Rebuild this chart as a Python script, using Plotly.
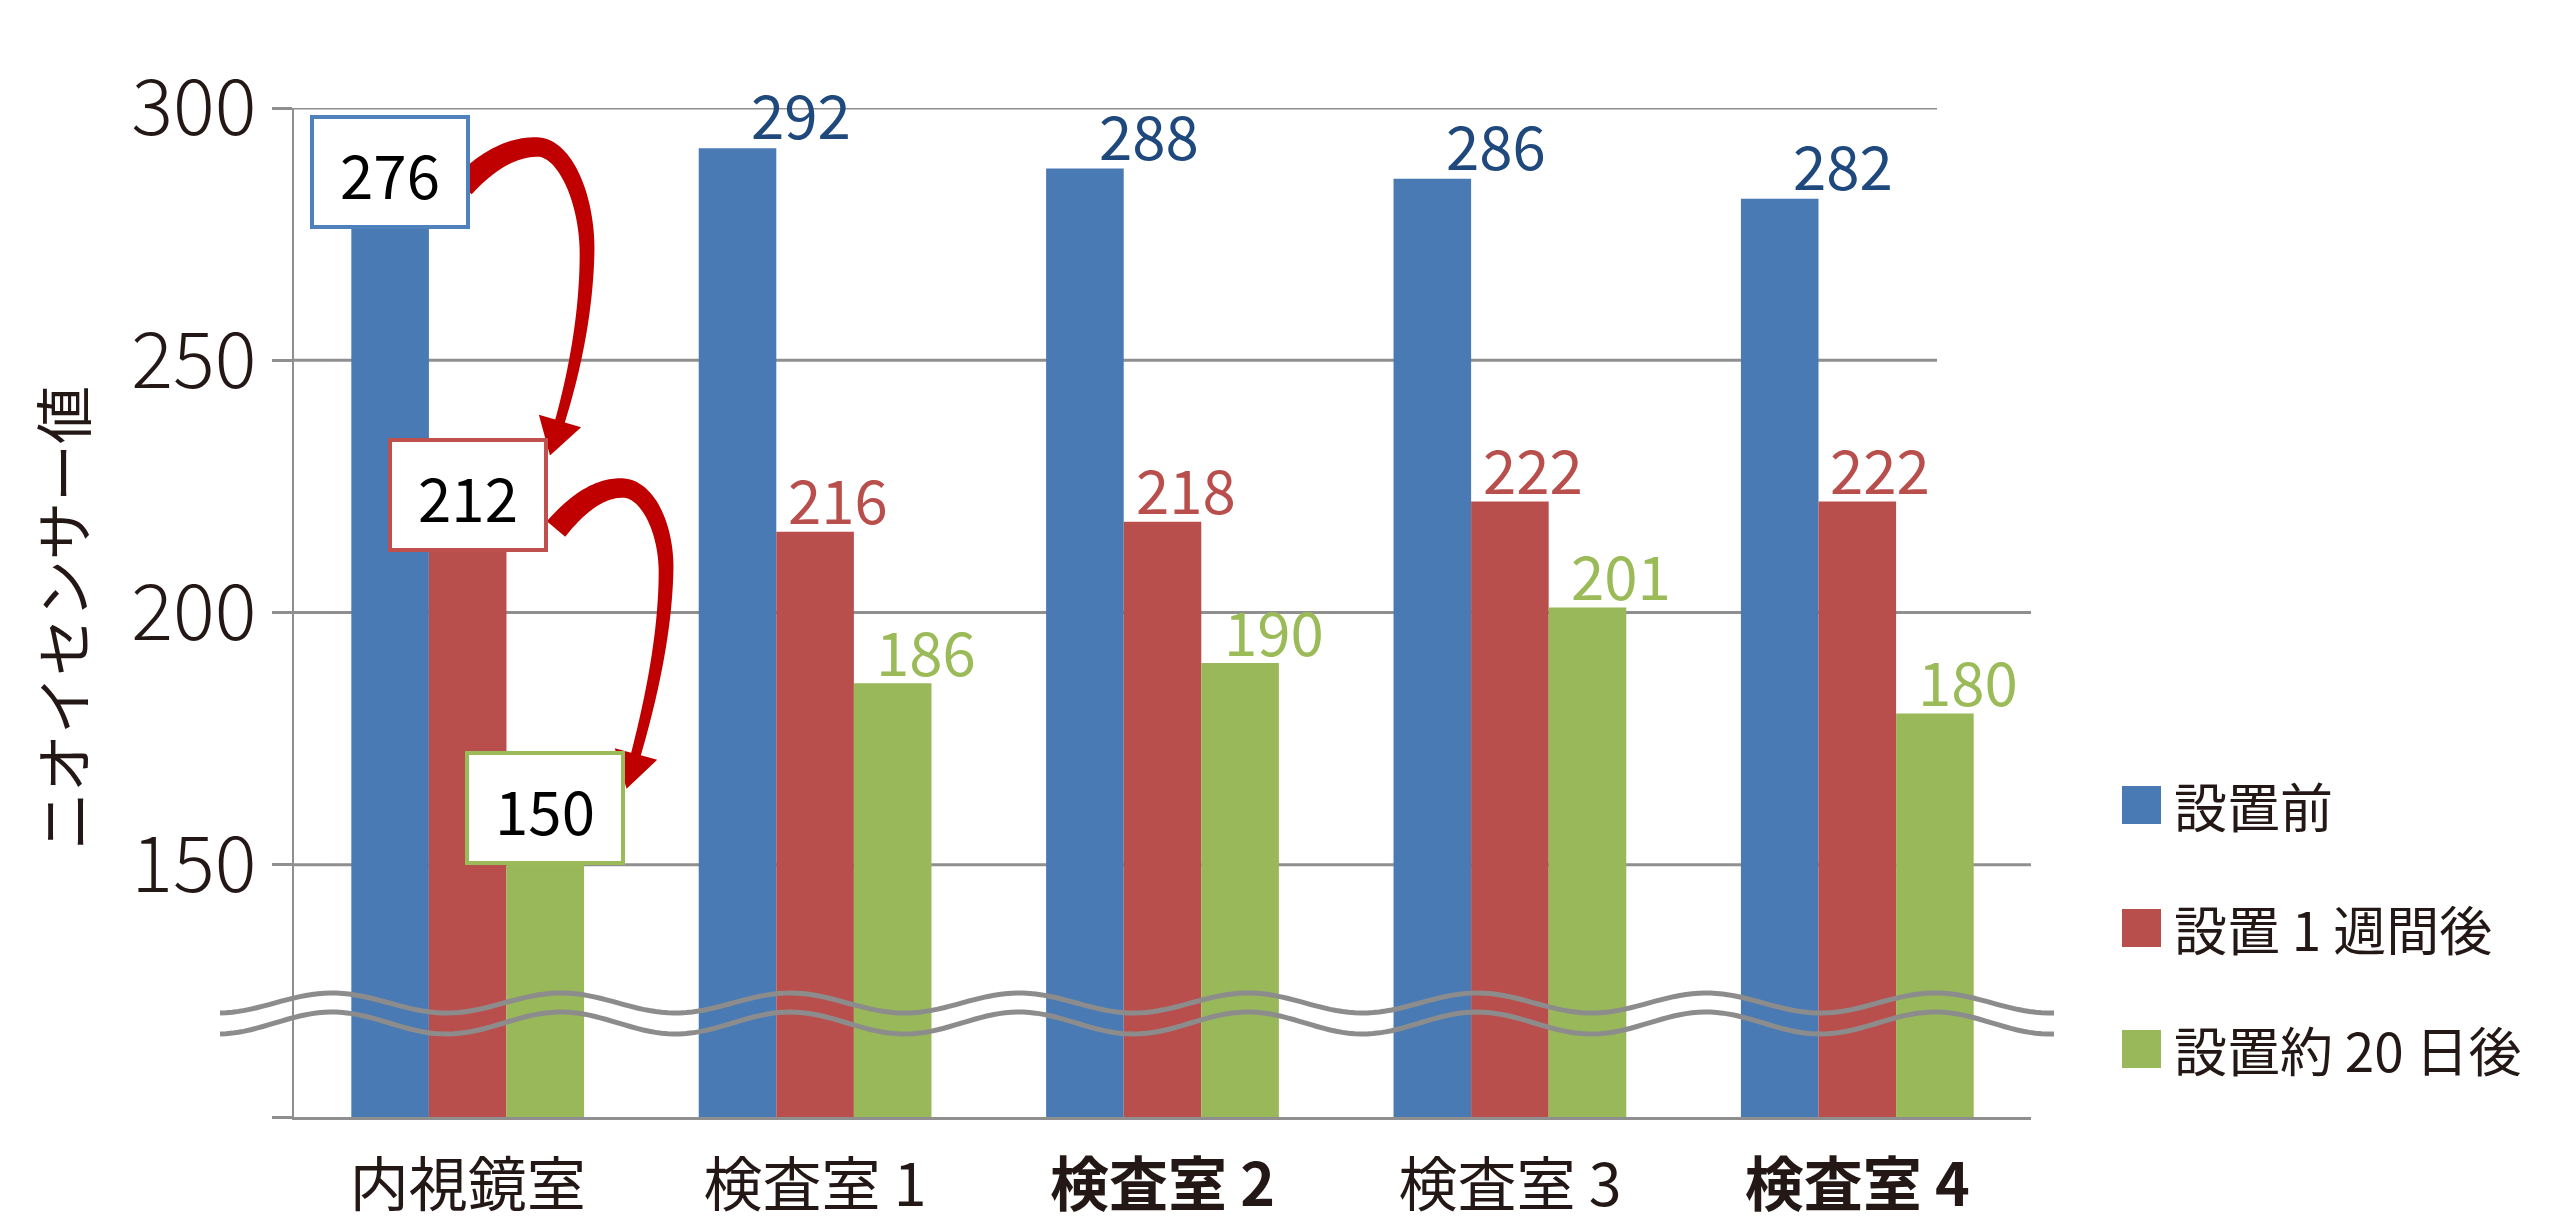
import numpy as np
import plotly.graph_objects as go

# ---------------- data ----------------
categories = ['内視鏡室', '検査室 1', '検査室 2', '検査室 3', '検査室 4']
category_labels = ['内視鏡室', '検査室 1', '<b>検査室 2</b>', '検査室 3', '<b>検査室 4</b>']
series_names = ['設置前', '設置 1 週間後', '設置約 20 日後']
before = [276, 292, 288, 286, 282]
week1 = [212, 216, 218, 222, 222]
day20 = [150, 186, 190, 201, 180]
y_ticks = [100, 150, 200, 250, 300]
y_tick_labels = ['', '150', '200', '250', '300']
grid_values = [150, 200, 250, 300]
y_title = 'ニオイセンサー値'

# ---------------- style / layout constants ----------------
FONT = 'Noto Sans CJK JP'
W, H = 2560, 1231
L, R, T, B = 294, 2031, 108, 1117     # plot area in page pixels
YMIN, YMAX = 100, 300
BARGAP = 0.33
bar_colors = ['#4A7AB3', '#B94F4C', '#98B85A']
label_colors = ['#1F497D', '#B94F4C', '#9BBB59']
box_colors = ['#4F81BD', '#C0504D', '#9BBB59']
grid_color = '#8F8F8F'
arrow_color = '#C00000'
text_color = '#231815'

series = [before, week1, day20]

catw = (R - L) / len(categories)
barw = catw * (1 - BARGAP) / 3
bar_offsets = [-barw, 0.0, barw]


def xp(px):
    return (px - L) / (R - L)


def yp(py):
    return (B - py) / (B - T)


fig = go.Figure()
for name, vals, col in zip(series_names, series, bar_colors):
    fig.add_trace(go.Bar(x=categories, y=vals, name=name, marker_color=col,
                         marker_line_width=0, showlegend=False, hoverinfo='x+y'))

annotations = []
shapes = []

# gridlines (top two are shorter, as in the reference)
for v in grid_values:
    x_end = xp(1937) if v >= 250 else 1.0
    shapes.append(dict(type='line', xref='paper', yref='y', x0=0, x1=x_end, y0=v, y1=v,
                       line=dict(color=grid_color, width=3), layer='below'))

# value labels for groups 2..5
label_shift = [(-14, -10), (23, -11), (111, -12)]
for k, vals in enumerate(series):
    for i in range(1, len(categories)):
        annotations.append(dict(x=categories[i], y=vals[i], xref='x', yref='y',
                                text=str(vals[i]), showarrow=False,
                                xshift=label_shift[k][0], yshift=label_shift[k][1],
                                yanchor='bottom', xanchor='center',
                                font=dict(family=FONT, size=60, color=label_colors[k])))

# boxed labels for first group
for k, vals in enumerate(series):
    annotations.append(dict(x=categories[0], y=vals[0], xref='x', yref='y',
                            text=str(vals[0]), showarrow=False,
                            xshift=bar_offsets[k], yshift=0,
                            yanchor='bottom', xanchor='center',
                            width=152, height=106, borderpad=0,
                            bordercolor=box_colors[k], borderwidth=4, bgcolor='white',
                            font=dict(family=FONT, size=60, color='black')))

# axis-break squiggle (decoration)
xs = np.linspace(220, 2054, 300)
for center, amp in [(1003, 10), (1023, 11)]:
    ys = center - amp * np.cos(2 * np.pi * (xs - 332) / 229)
    path = 'M ' + ' L '.join(f'{xp(a):.5f},{yp(b):.5f}' for a, b in zip(xs, ys))
    shapes.append(dict(type='path', xref='paper', yref='paper', path=path,
                       line=dict(color='#8C8C8C', width=5), layer='above'))


# curved arrows (decoration) from box to box in first group
def bez(p0, c1, c2, p1, n=40):
    t = np.linspace(0, 1, n)[:, None]
    p0, c1, c2, p1 = map(np.array, (p0, c1, c2, p1))
    return (1 - t) ** 3 * p0 + 3 * (1 - t) ** 2 * t * c1 + 3 * (1 - t) * t ** 2 * c2 + t ** 3 * p1


def arrow_path(segs, w0=24, w1=10, head_half=22, head_len=36):
    pts = np.vstack([bez(*s)[(0 if j == 0 else 1):] for j, s in enumerate(segs)])
    d = np.gradient(pts, axis=0)
    d /= np.linalg.norm(d, axis=1)[:, None]
    nrm = np.stack([-d[:, 1], d[:, 0]], axis=1)
    wid = np.linspace(w0, w1, len(pts))[:, None] / 2
    left = pts + nrm * wid
    right = pts - nrm * wid
    end = pts[-1]
    dir_ = d[-1]
    n_ = nrm[-1]
    hb1 = end + n_ * head_half
    hb2 = end - n_ * head_half
    tip = end + dir_ * head_len
    poly = list(left) + [hb1, tip, hb2] + list(right[::-1])
    return 'M ' + ' L '.join(f'{xp(a):.5f},{yp(b):.5f}' for a, b in poly) + ' Z'


arrow1 = [((463, 186), (488, 160), (512, 147), (537, 147)),
          ((537, 147), (565, 147), (588, 200), (587, 255)),
          ((587, 255), (586, 320), (572, 380), (560, 421))]
arrow2 = [((556, 529), (576, 505), (598, 488), (622, 488)),
          ((622, 488), (648, 488), (667, 530), (666, 573)),
          ((666, 573), (665, 640), (648, 710), (636, 754))]
for a in (arrow1, arrow2):
    shapes.append(dict(type='path', xref='paper', yref='paper', path=arrow_path(a),
                       fillcolor=arrow_color, line=dict(width=0), layer='above'))

# y-axis title
annotations.append(dict(x=xp(61), y=yp(618), xref='paper', yref='paper', text=y_title,
                        textangle=-90, showarrow=False, xanchor='center', yanchor='middle',
                        font=dict(family=FONT, size=58, color=text_color)))

# manual legend
legend_y = [805, 928, 1049]
for name, col, cy in zip(series_names, bar_colors, legend_y):
    shapes.append(dict(type='rect', xref='paper', yref='paper',
                       x0=xp(2122), x1=xp(2161), y0=yp(cy + 19), y1=yp(cy - 19),
                       fillcolor=col, line=dict(width=0)))
    annotations.append(dict(x=xp(2172), y=yp(cy), xref='paper', yref='paper', text=name,
                            showarrow=False, xanchor='left', yanchor='middle',
                            font=dict(family=FONT, size=53, color=text_color)))

fig.update_layout(
    width=W, height=H,
    margin=dict(l=L, r=W - R, t=T, b=H - B, pad=0, autoexpand=False),
    paper_bgcolor='white', plot_bgcolor='white',
    barmode='group', bargap=BARGAP, bargroupgap=0,
    showlegend=False,
    font=dict(family=FONT, color=text_color),
    xaxis=dict(type='category', categoryorder='array', categoryarray=categories,
               tickvals=categories, ticktext=category_labels,
               showline=True, linecolor=grid_color, linewidth=3,
               ticks='outside', ticklen=15, tickcolor='rgba(0,0,0,0)',
               tickfont=dict(family=FONT, size=59, color=text_color),
               showgrid=False, zeroline=False, fixedrange=True, automargin=False),
    yaxis=dict(range=[YMIN, YMAX], tickvals=y_ticks, ticktext=y_tick_labels,
               showline=True, linecolor=grid_color, linewidth=2,
               ticks='outside', ticklen=20, tickwidth=3, tickcolor=grid_color,
               tickfont=dict(family=FONT, size=78, color=text_color, weight=300),
               showgrid=False, zeroline=False, fixedrange=True, automargin=False),
    shapes=shapes,
    annotations=annotations,
)

fig.write_html('out.html', config={'displayModeBar': False},
               post_script="document.body.style.margin='0';"
                           "document.documentElement.style.overflow='hidden';")
